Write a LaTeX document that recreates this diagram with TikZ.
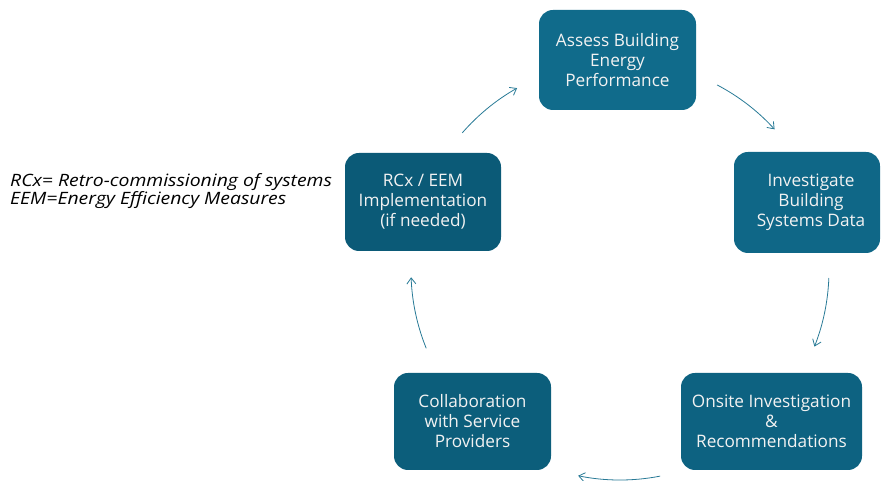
\documentclass[tikz,border=0pt]{standalone}
\usepackage{fontspec}
\setmainfont{Open Sans}
\newfontfamily\notefont{Open Sans}
\usetikzlibrary{arrows.meta}
\definecolor{cA}{RGB}{16,107,139}
\definecolor{cB}{RGB}{15,103,135}
\definecolor{cC}{RGB}{13,98,129}
\definecolor{cD}{RGB}{12,94,123}
\definecolor{cE}{RGB}{11,90,119}
\definecolor{arrc}{RGB}{40,122,150}
\definecolor{txt}{RGB}{242,242,242}
\tikzset{
  stepbox/.style={rounded corners=14pt, text=txt, align=center, inner sep=0pt,
    font=\fontsize{17.2}{20}\selectfont},
  cyc/.style={draw=arrc, line width=0.8pt, -{Straight Barb[length=6pt,width=9pt,line width=0.8pt]}}
}
\begin{document}
\begin{tikzpicture}[x=1pt,y=1pt]
\useasboundingbox (0,0) rectangle (881,481);
% nodes (y measured upward: Y = 481 - y_pixel)
\node[stepbox, fill=cA, minimum width=157pt, minimum height=100pt] (assess) at (617.5,421) {Assess Building\\Energy\\Performance};
\node[stepbox, fill=cB, minimum width=146pt, minimum height=101pt] (invest) at (807,278.5) {\hspace*{8pt}Investigate\\\hspace*{8pt}Building\\\hspace*{8pt}Systems Data};
\node[stepbox, fill=cC, minimum width=181pt, minimum height=97pt] (onsite) at (771.5,59.5) {Onsite Investigation\\\&\\Recommendations};
\node[stepbox, fill=cD, minimum width=157pt, minimum height=97pt] (collab) at (472.5,59.5) {Collaboration\\with Service\\Providers};
\node[stepbox, fill=cE, minimum width=156pt, minimum height=98pt] (rcx) at (423,279) {RCx / EEM\\Implementation\\(if needed)};
% note
\node[anchor=west, align=left, inner sep=0pt, font=\notefont\itshape\fontsize{17}{16.8}\selectfont] (note) at (10,289.5) {\scalebox{1.14}[1]{\begin{tabular}{@{}l@{}}RCx= Retro-commissioning of systems\\EEM=Energy Efficiency Measures\end{tabular}}};
% cycle arrows on circle centre (620,211), radius 209
\coordinate (ctr) at (620,211);
\path (ctr) ++(62.3:209) coordinate (a1);
\path (ctr) ++(-2.2:209) coordinate (a2);
\path (ctr) ++(-79:210) coordinate (a3);
\path (ctr) ++(-158:209) coordinate (a4);
\path (ctr) ++(139:209) coordinate (a5);
\draw[cyc] (a1) arc[start angle=62.3, end angle=42.3, radius=209];
\draw[cyc] (a2) arc[start angle=-2.2, end angle=-21.5, radius=209];
\draw[cyc] (a3) arc[start angle=-79, end angle=-101.5, radius=210];
\draw[cyc] (a4) arc[start angle=-158, end angle=-178, radius=209];
\draw[cyc] (a5) arc[start angle=139, end angle=119.5, radius=209];
\end{tikzpicture}
\end{document}
